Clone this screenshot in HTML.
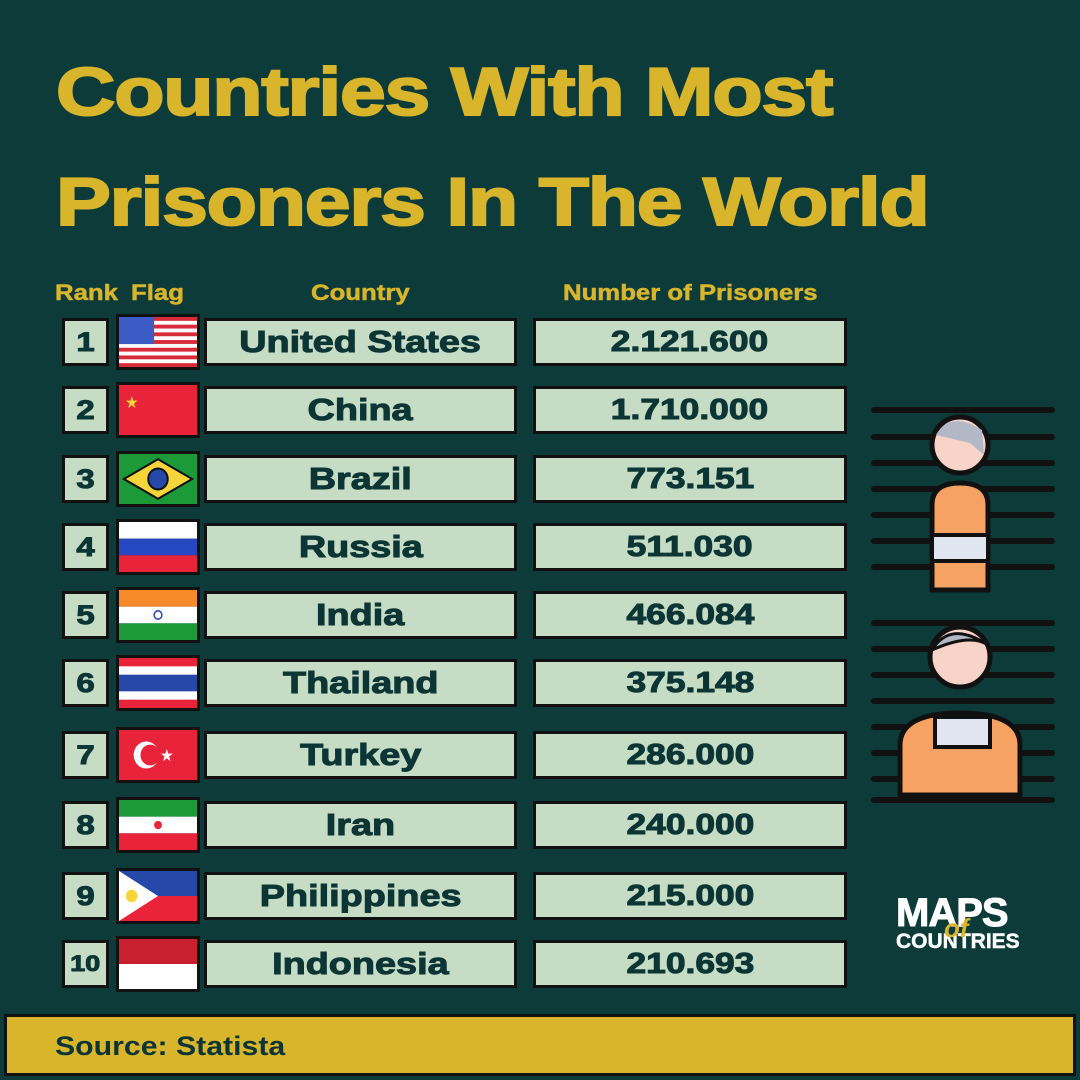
<!DOCTYPE html>
<html><head><meta charset="utf-8">
<style>
*{margin:0;padding:0;box-sizing:border-box}
body{width:1080px;height:1080px;background:#0d3b3a;font-family:"Liberation Sans",sans-serif;position:relative;overflow:hidden}
.title{position:absolute;left:56px;color:#d8b52a;font-weight:bold;font-size:68px;letter-spacing:-1px;line-height:1;transform:scaleX(1.21);transform-origin:left;-webkit-text-stroke:2px #d8b52a}
.hdr{position:absolute;top:280px;color:#d8b52a;font-weight:bold;font-size:22px;transform:scaleX(1.17);transform-origin:left;-webkit-text-stroke:0.5px #d8b52a}
.box{position:absolute;background:#c6dcc4;border:3px solid #111;color:#0c3535;font-weight:bold;display:flex;align-items:center;justify-content:center}
.box span{display:inline-block;transform:scaleX(1.22);-webkit-text-stroke:1px #0c3535;white-space:nowrap}
.flag{position:absolute;border:3px solid #111;overflow:hidden}
#footer{position:absolute;left:4px;top:1014px;width:1072px;height:62px;background:#d8b52a;border:3px solid #111}
</style></head><body>
<div class="title" style="top:58px">Countries With Most</div>
<div class="title" style="top:168px">Prisoners In The World</div>
<div class="hdr" style="left:55px">Rank</div>
<div class="hdr" style="left:131px">Flag</div>
<div class="hdr" style="left:311px">Country</div>
<div class="hdr" style="left:563px">Number of Prisoners</div>
<div id="rows"></div>
<svg style="position:absolute;left:860px;top:395px" width="210" height="420">
<g stroke="#111" stroke-width="6" stroke-linecap="round">
<line x1="14" y1="15" x2="192" y2="15"/><line x1="14" y1="42" x2="192" y2="42"/><line x1="14" y1="68" x2="192" y2="68"/><line x1="14" y1="94" x2="192" y2="94"/><line x1="14" y1="120" x2="192" y2="120"/><line x1="14" y1="146" x2="192" y2="146"/><line x1="14" y1="172" x2="192" y2="172"/>
<line x1="14" y1="228" x2="192" y2="228"/><line x1="14" y1="254" x2="192" y2="254"/><line x1="14" y1="280" x2="192" y2="280"/><line x1="14" y1="306" x2="192" y2="306"/><line x1="14" y1="332" x2="192" y2="332"/><line x1="14" y1="358" x2="192" y2="358"/><line x1="14" y1="384" x2="192" y2="384"/><line x1="14" y1="405" x2="192" y2="405"/>
</g>
<path d="M72 195 V110 Q72 88 100 88 Q128 88 128 110 V195Z" fill="#f5a263" stroke="#111" stroke-width="5"/>
<rect x="72" y="140" width="56" height="26" fill="#dfe6ef" stroke="#111" stroke-width="4"/>
<circle cx="100" cy="50" r="28" fill="#f7d3c8" stroke="#111" stroke-width="5"/>
<path d="M76 40 Q90 15 122 35 L124 60 L110 48 Z" fill="#b3b8c6"/>
<path d="M40 400 V350 Q40 318 100 318 Q160 318 160 350 V400Z" fill="#f5a263" stroke="#111" stroke-width="5"/>
<circle cx="100" cy="262" r="30" fill="#f7d3c8" stroke="#111" stroke-width="5"/>
<path d="M72 255 Q90 225 128 250 Q110 238 72 255Z" fill="#b3b8c6" stroke="#111" stroke-width="3"/>
<rect x="75" y="322" width="55" height="30" fill="#dfe6ef" stroke="#111" stroke-width="4"/>
</svg>
<div style="position:absolute;left:896px;top:893px;color:#fff;font-weight:bold;line-height:1">
<div style="font-size:40px;letter-spacing:-1px;-webkit-text-stroke:1px #fff">MAPS</div>
<div style="font-size:21px;margin-top:-2px;-webkit-text-stroke:0.5px #fff">COUNTRIES</div>
<div style="position:absolute;left:48px;top:22px;color:#d8b52a;font-style:italic;font-size:26px">of</div>
</div>
<div id="footer">
<div style="position:absolute;left:48px;top:14px;font-size:27px;font-weight:bold;color:#0c3535;transform:scaleX(1.12);transform-origin:left">Source: Statista</div>
</div>
<script>
const countries=["United States","China","Brazil","Russia","India","Thailand","Turkey","Iran","Philippines","Indonesia"];
const prisonerLabels=["2.121.600","1.710.000","773.151","511.030","466.084","375.148","286.000","240.000","215.000","210.693"];
const rowCenters=[342,410,479,547,615,683,755,825,896,964];
const flags=[
'<svg width="100%" height="100%" viewBox="0 0 80 48" preserveAspectRatio="none"><rect width="80" height="48" fill="#fff"/>'+[0,2,4,6,8,10,12].map(i=>`<rect y="${i*48/13}" width="80" height="${48/13}" fill="#d92a3a"/>`).join('')+'<rect width="36" height="26" fill="#3c5bc4"/></svg>',
'<svg width="100%" height="100%" viewBox="0 0 80 48" preserveAspectRatio="none"><rect width="80" height="48" fill="#e8233a"/><text x="6" y="22" font-size="16" fill="#f5d53a">★</text></svg>',
'<svg width="100%" height="100%" viewBox="0 0 80 48" preserveAspectRatio="none"><rect width="80" height="48" fill="#1c9a3a"/><polygon points="40,5 75,24 40,43 5,24" fill="#f5d53a" stroke="#111" stroke-width="2"/><circle cx="40" cy="24" r="10" fill="#2648a8" stroke="#111" stroke-width="2"/></svg>',
'<svg width="100%" height="100%" viewBox="0 0 80 48" preserveAspectRatio="none"><rect width="80" height="16" fill="#fff"/><rect y="16" width="80" height="16" fill="#2648c0"/><rect y="32" width="80" height="16" fill="#e8233a"/></svg>',
'<svg width="100%" height="100%" viewBox="0 0 80 48" preserveAspectRatio="none"><rect width="80" height="16" fill="#f58a2a"/><rect y="16" width="80" height="16" fill="#fff"/><rect y="32" width="80" height="16" fill="#1c9a3a"/><circle cx="40" cy="24" r="4" fill="none" stroke="#2648a8" stroke-width="1.5"/></svg>',
'<svg width="100%" height="100%" viewBox="0 0 80 48" preserveAspectRatio="none"><rect width="80" height="48" fill="#e8233a"/><rect y="8" width="80" height="32" fill="#fff"/><rect y="16" width="80" height="16" fill="#2648a8"/></svg>',
'<svg width="100%" height="100%" viewBox="0 0 80 48" preserveAspectRatio="none"><rect width="80" height="48" fill="#e8233a"/><circle cx="28" cy="24" r="13" fill="#fff"/><circle cx="32" cy="24" r="10" fill="#e8233a"/><text x="42" y="30" font-size="16" fill="#fff">★</text></svg>',
'<svg width="100%" height="100%" viewBox="0 0 80 48" preserveAspectRatio="none"><rect width="80" height="16" fill="#1c9a3a"/><rect y="16" width="80" height="16" fill="#fff"/><rect y="32" width="80" height="16" fill="#e8233a"/><circle cx="40" cy="24" r="4" fill="#e8233a"/></svg>',
'<svg width="100%" height="100%" viewBox="0 0 80 48" preserveAspectRatio="none"><rect width="80" height="24" fill="#2648a8"/><rect y="24" width="80" height="24" fill="#e8233a"/><polygon points="0,0 40,24 0,48" fill="#fff"/><circle cx="13" cy="24" r="6" fill="#f5d53a"/></svg>',
'<svg width="100%" height="100%" viewBox="0 0 80 48" preserveAspectRatio="none"><rect width="80" height="24" fill="#c8202e"/><rect y="24" width="80" height="24" fill="#fff"/></svg>'
];
const rows=document.getElementById('rows');
countries.forEach((c,i)=>{
  const cy=rowCenters[i];
  const r=document.createElement('div');r.className='box';
  
  
  r.style.cssText=`left:62px;top:${cy-24}px;width:47px;height:48px;font-size:${i==9?22:27}px`;
  r.innerHTML='<span>'+(i+1)+'</span>';rows.appendChild(r);
  const f=document.createElement('div');f.className='flag';
  
  
  f.style.cssText=`left:116px;top:${cy-28}px;width:84px;height:56px`;
  f.innerHTML=flags[i];rows.appendChild(f);
  const n=document.createElement('div');n.className='box';
  
  
  n.style.cssText=`left:204px;top:${cy-24}px;width:313px;height:48px;font-size:31px`;
  n.innerHTML='<span>'+c+'</span>';rows.appendChild(n);
  const v=document.createElement('div');v.className='box';
  
  
  v.style.cssText=`left:533px;top:${cy-24}px;width:314px;height:48px;font-size:29px`;
  v.innerHTML='<span>'+prisonerLabels[i]+'</span>';rows.appendChild(v);
});
</script>
</body></html>
